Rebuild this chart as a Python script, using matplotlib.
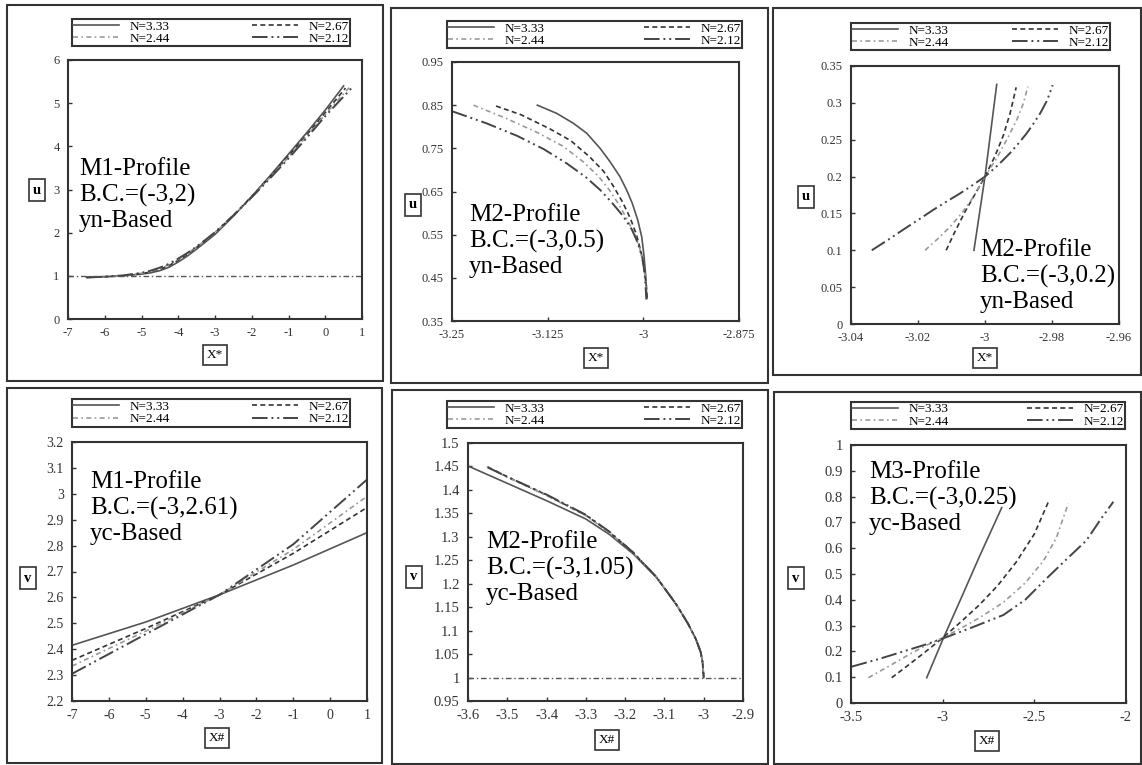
import numpy as np
import matplotlib.pyplot as plt
from matplotlib.patches import Rectangle

plt.rcParams['font.family'] = ['Liberation Serif', 'DejaVu Serif']

W = 1142
H = 765

labels = ["N=3.33", "N=2.67", "N=2.44", "N=2.12"]

#   Panel 1: M1 profile, yn based
p1_x = [[-6.5, -6, -5.5, -5, -4.75, -4.5, -4.25, -4, -3.75, -3.5, -3.25, -3, -2.5, -2, -1.5, -1, -0.5, 0, 0.5],
        [-6.5, -6, -5.5, -5, -4.75, -4.5, -4.25, -4, -3.75, -3.5, -3.25, -3, -2.5, -2, -1.5, -1, -0.5, 0, 0.55],
        [-6.5, -6, -5.5, -5, -4.75, -4.5, -4.25, -4, -3.75, -3.5, -3.25, -3, -2.5, -2, -1.5, -1, -0.5, 0, 0.65],
        [-6.5, -6, -5.5, -5, -4.75, -4.5, -4.25, -4, -3.75, -3.5, -3.25, -3, -2.5, -2, -1.5, -1, -0.5, 0, 0.75]]
p1_y = [[0.97, 0.98, 1.0, 1.04, 1.07, 1.12, 1.2, 1.32, 1.46, 1.62, 1.79, 1.96, 2.38, 2.84, 3.32, 3.82, 4.32, 4.84, 5.4],
        [0.97, 0.98, 1.0, 1.05, 1.09, 1.15, 1.24, 1.36, 1.5, 1.66, 1.83, 2.0, 2.4, 2.84, 3.3, 3.78, 4.27, 4.78, 5.35],
        [0.96, 0.98, 1.0, 1.06, 1.1, 1.17, 1.26, 1.38, 1.52, 1.67, 1.83, 2.0, 2.4, 2.83, 3.28, 3.75, 4.24, 4.74, 5.36],
        [0.96, 0.98, 1.01, 1.07, 1.12, 1.19, 1.28, 1.4, 1.53, 1.68, 1.84, 2.01, 2.4, 2.82, 3.26, 3.72, 4.2, 4.7, 5.38]]

#   Panel 2: M2 profile, yn based
p2_x = [[-3.1385, -3.1132, -3.0914, -3.074, -3.0565, -3.0435, -3.0304, -3.0217, -3.0145, -3.0073, -3.0021, -2.999, -2.9968, -2.9955],
        [-3.1925, -3.16, -3.122, -3.095, -3.07, -3.052, -3.039, -3.027, -3.017, -3.009, -3.003, -2.999, -2.996, -2.995],
        [-3.222, -3.18, -3.139, -3.105, -3.078, -3.058, -3.043, -3.031, -3.021, -3.012, -3.005, -3.0, -2.997, -2.996],
        [-3.25, -3.205, -3.165, -3.13, -3.1, -3.075, -3.056, -3.04, -3.026, -3.015, -3.007, -3.001, -2.998, -2.996]]
p2_y = [[0.85, 0.831, 0.808, 0.785, 0.75, 0.719, 0.684, 0.653, 0.623, 0.584, 0.545, 0.499, 0.453, 0.403],
        [0.848, 0.828, 0.795, 0.768, 0.73, 0.697, 0.662, 0.625, 0.588, 0.55, 0.51, 0.47, 0.43, 0.4],
        [0.85, 0.82, 0.787, 0.755, 0.718, 0.684, 0.65, 0.617, 0.585, 0.553, 0.52, 0.485, 0.445, 0.4],
        [0.836, 0.808, 0.779, 0.748, 0.715, 0.683, 0.653, 0.622, 0.592, 0.562, 0.53, 0.495, 0.455, 0.4]]

#   Panel 3: M2 profile, yn based
p3_x = [[-3.0033, -3.0, -2.9965],
        [-3.0116, -3.009, -3.006, -3.003, -3.0, -2.997, -2.9945, -2.9925, -2.9907],
        [-3.0179, -3.014, -3.0104, -3.007, -3.0035, -3.0, -2.9965, -2.9935, -2.9905, -2.9885, -2.9872],
        [-3.0338, -3.029, -3.0244, -3.02, -3.0154, -3.0115, -3.0075, -3.0035, -3.0, -2.996, -2.9925,
         -2.99, -2.9875, -2.9855, -2.9835, -2.9815, -2.9798]]
p3_y = [[0.1, 0.2, 0.325],
        [0.1, 0.125, 0.152, 0.176, 0.2, 0.228, 0.256, 0.286, 0.321],
        [0.1, 0.116, 0.132, 0.15, 0.172, 0.2, 0.225, 0.25, 0.277, 0.3, 0.322],
        [0.1, 0.114, 0.128, 0.141, 0.155, 0.166, 0.177, 0.189, 0.2, 0.216, 0.232, 0.245, 0.259, 0.272,
         0.286, 0.303, 0.324]]

#   Panel 4: M1 profile, yc based
p4_x = [-7, -5, -3, -1, 1]
p4_y = [[2.415, 2.505, 2.61, 2.725, 2.85],
        [2.357, 2.48, 2.61, 2.77, 2.947],
        [2.335, 2.47, 2.61, 2.785, 2.99],
        [2.305, 2.458, 2.61, 2.805, 3.055]]

#   Panel 5: M2 profile, yc based
p5_x = [[-3.6, -3.5, -3.4, -3.3, -3.24, -3.18, -3.12, -3.07, -3.04, -3.02, -3.008, -3.003, -3.0],
        [-3.55, -3.5, -3.4, -3.3, -3.24, -3.18, -3.12, -3.07, -3.04, -3.02, -3.008, -3.003, -3.0],
        [-3.552, -3.5, -3.4, -3.3, -3.24, -3.18, -3.12, -3.07, -3.04, -3.02, -3.008, -3.003, -3.0],
        [-3.55, -3.5, -3.4, -3.3, -3.24, -3.18, -3.12, -3.07, -3.04, -3.02, -3.008, -3.003, -3.0]]
p5_y = [[1.451, 1.414, 1.377, 1.338, 1.305, 1.264, 1.213, 1.156, 1.115, 1.082, 1.055, 1.033, 1.0],
        [1.449, 1.428, 1.389, 1.346, 1.31, 1.267, 1.214, 1.156, 1.115, 1.082, 1.055, 1.033, 1.0],
        [1.45, 1.427, 1.388, 1.345, 1.309, 1.266, 1.214, 1.156, 1.115, 1.082, 1.055, 1.033, 1.0],
        [1.448, 1.428, 1.39, 1.347, 1.311, 1.267, 1.214, 1.156, 1.115, 1.082, 1.055, 1.033, 1.0]]

#   Panel 6: M3 profile, yc based
p6_x = [[-3.087, -3.0, -2.9, -2.8, -2.678],
        [-3.278, -3.2, -3.1, -3.0, -2.9, -2.8, -2.7, -2.6, -2.5, -2.423],
        [-3.405, -3.3, -3.178, -3.1, -3.0, -2.9, -2.8, -2.669, -2.55, -2.451, -2.38, -2.315],
        [-3.496, -3.35, -3.214, -3.1, -3.0, -2.85, -2.669, -2.55, -2.433, -2.32, -2.216, -2.14, -2.069]]
p6_y = [[0.098, 0.245, 0.405, 0.567, 0.757],
        [0.098, 0.14, 0.195, 0.252, 0.315, 0.38, 0.455, 0.545, 0.655, 0.78],
        [0.098, 0.14, 0.19, 0.22, 0.252, 0.29, 0.33, 0.39, 0.465, 0.55, 0.64, 0.773],
        [0.141, 0.17, 0.2, 0.225, 0.25, 0.29, 0.341, 0.4, 0.483, 0.56, 0.63, 0.71, 0.78]]

styles = [dict(ls='-', color='#555555', lw=1.2),
          dict(ls=(0, (3, 2)), color='#333333', lw=1.2),
          dict(ls=(0, (3, 2, 1, 2)), color='#999999', lw=1.2),
          dict(ls=(0, (8, 2, 1, 2, 1, 2)), color='#444444', lw=1.4)]


def rect(x0, y0, x1, y1):
    return [x0 / W, 1 - y1 / H, (x1 - x0) / W, (y1 - y0) / H]


def panel(box, axbox, legbox, xs, ys, xlim, ylim, xt, yt, ylab, xlab, ylabpos, xlabpos,
          text, textpos, tsize, hline=None):
    fig.add_artist(Rectangle((box[0] / W, 1 - box[3] / H), (box[2] - box[0]) / W,
                             (box[3] - box[1]) / H, transform=fig.transFigure,
                             fill=False, ec='#333333', lw=1.5))
    ax = fig.add_axes(rect(*axbox))
    for i in range(4):
        x = xs[i] if isinstance(xs[0], list) else xs
        ax.plot(x, ys[i], label=labels[i], **styles[i])
    if hline is not None:
        ax.plot(xlim, [hline, hline], ls=(0, (4, 2, 1, 2)), color='#555555', lw=1)
    ax.set_xlim(xlim)
    ax.set_ylim(ylim)
    ax.set_xticks(xt)
    ax.set_xticklabels(['%g' % v for v in xt])
    ax.set_yticks(yt)
    ax.set_yticklabels(['%g' % v for v in yt])
    ax.tick_params(direction='in', length=3, width=1, labelsize=tsize, colors='#333333',
                   pad=6)
    for s in ax.spines.values():
        s.set_linewidth(1.5)
        s.set_color('#333333')
    h, l = ax.get_legend_handles_labels()
    order = [0, 2, 1, 3]
    lb = rect(*legbox)
    ax.legend([h[i] for i in order], [l[i] for i in order], ncol=2, mode='expand',
              loc='center', bbox_to_anchor=lb, bbox_transform=fig.transFigure,
              fontsize=9.5, handlelength=3.5, labelspacing=0.0, borderpad=0.1,
              borderaxespad=0.2, fancybox=False, edgecolor='#333333', framealpha=1)
    ax.get_legend().get_frame().set_linewidth(1.5)
    fig.text(ylabpos[0] / W, 1 - ylabpos[1] / H, ylab, ha='center', va='center',
             fontsize=10.5, fontweight='bold',
             bbox=dict(boxstyle='square,pad=0.3', fc='white', ec='#333333', lw=1.2))
    fig.text(xlabpos[0] / W, 1 - xlabpos[1] / H, xlab, ha='center', va='center',
             fontsize=9.5,
             bbox=dict(boxstyle='square,pad=0.3', fc='white', ec='#333333', lw=1.2))
    fig.text(textpos[0] / W, 1 - textpos[1] / H, text, ha='left', va='top',
             fontsize=18, linespacing=1.2)
    return ax


fig = plt.figure(figsize=(W / 100, H / 100), dpi=100)

panel((7, 5, 383, 381), (68, 60, 362, 319), (69, 15, 353, 50), p1_x, p1_y,
      [-7, 1], [0, 6], list(range(-7, 2)), list(range(0, 7)), 'u', 'X*',
      (37, 190), (215, 355), 'M1-Profile\nB.C.=(-3,2)\nyn-Based', (79, 158), 9, hline=1)

panel((391, 8, 768, 383), (452, 62, 739, 321), (444, 19, 745, 50), p2_x, p2_y,
      [-3.25, -2.875], [0.35, 0.95], [-3.25, -3.125, -3, -2.875],
      list(np.round(np.arange(0.35, 0.96, 0.1), 2)), 'u', 'X*',
      (413, 205), (596, 358), 'M2-Profile\nB.C.=(-3,0.5)\nyn-Based', (469, 204), 9)

panel((773, 8, 1141, 375), (851, 66, 1119, 324), (848, 18, 1113, 55), p3_x, p3_y,
      [-3.04, -2.96], [0, 0.35], [-3.04, -3.02, -3, -2.98, -2.96],
      list(np.round(np.arange(0, 0.36, 0.05), 2)), 'u', 'X*',
      (806, 197), (985, 358), 'M2-Profile\nB.C.=(-3,0.2)\nyn-Based', (980, 239), 9)

panel((7, 388, 382, 763), (72, 442, 367, 701), (69, 398, 353, 428), p4_x, p4_y,
      [-7, 1], [2.2, 3.2], list(range(-7, 2)),
      list(np.round(np.arange(2.2, 3.21, 0.1), 1)), 'v', 'X#',
      (28, 578), (217, 738), 'M1-Profile\nB.C.=(-3,2.61)\nyc-Based', (90, 471), 10)

panel((392, 390, 768, 764), (468, 443, 743, 701), (444, 399, 745, 430), p5_x, p5_y,
      [-3.6, -2.9], [0.95, 1.5], list(np.round(np.arange(-3.6, -2.85, 0.1), 1)),
      list(np.round(np.arange(0.95, 1.51, 0.05), 2)), 'v', 'X#',
      (414, 577), (607, 740), 'M2-Profile\nB.C.=(-3,1.05)\nyc-Based', (486, 531), 10.5,
      hline=1)

panel((774, 392, 1141, 764), (851, 445, 1126, 703), (848, 400, 1128, 431), p6_x, p6_y,
      [-3.5, -2], [0, 1], [-3.5, -3, -2.5, -2],
      list(np.round(np.arange(0, 1.01, 0.1), 1)), 'v', 'X#',
      (796, 578), (987, 741), 'M3-Profile\nB.C.=(-3,0.25)\nyc-Based', (869, 461), 10.5)

fig.savefig('out.png', dpi=100)
